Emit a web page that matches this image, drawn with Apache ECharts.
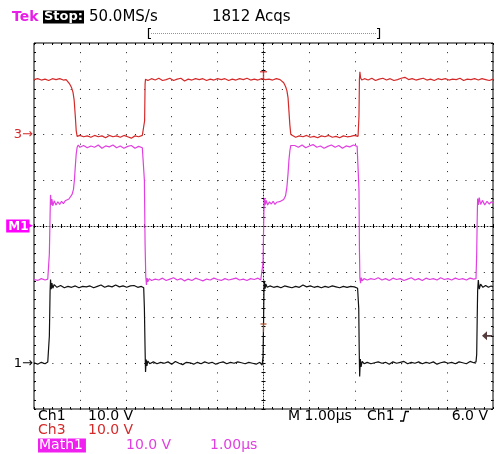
<!DOCTYPE html>
<html><head><meta charset="utf-8">
<script src="https://cdn.jsdelivr.net/npm/echarts@6/dist/echarts.min.js"></script>
<style>html,body{margin:0;padding:0;background:#fff}#c{width:497px;height:454px}</style>
</head><body><div id="c"></div>
<script>
// ---- scope settings ----
const timePerDiv = 1.0;          // µs / div
const ch1VoltsPerDiv = 10.0;     // V / div
const ch3VoltsPerDiv = 10.0;
const mathVoltsPerDiv = 10.0;
const ch1Ground = -3;            // divisions from centre
const ch3Ground = 2;
const mathGround = 0;
const triggerLevel = 6.0;        // V on Ch1
const triggerTime = 0.0;         // µs

// ---- Ch1 (black), [time µs, volts] ----
const ch1 = [
[-5.00,0.1],[-4.92,-0.2],[-4.84,0.2],[-4.76,-0.1],[-4.70,0.3],[-4.68,0.0],
[-4.665,6],[-4.65,15.5],[-4.64,18.3],[-4.625,16.2],[-4.61,17.5],[-4.59,16.4],[-4.56,17.2],
[-4.50,16.6],[-4.42,17.0],[-4.34,16.5],[-4.26,16.8],[-4.18,16.6],[-4.10,16.9],[-4.02,16.5],[-3.94,16.8],
[-3.86,16.7],[-3.78,16.9],[-3.70,16.5],[-3.62,16.8],[-3.54,17.1],[-3.46,16.6],[-3.38,16.9],[-3.30,16.7],
[-3.22,17.1],[-3.14,16.7],[-3.06,16.9],[-2.98,16.6],[-2.90,16.9],[-2.82,17.0],[-2.74,16.6],[-2.66,16.8],[-2.61,16.5],
[-2.595,12],[-2.58,3],[-2.57,-1.9],[-2.555,0.8],[-2.54,-0.6],[-2.52,0.5],[-2.48,-0.1],
[-2.40,0.3],[-2.32,-0.1],[-2.24,0.2],[-2.16,0.0],[-2.08,0.3],[-2.00,-0.2],[-1.92,0.4],[-1.84,0.0],
[-1.76,-0.3],[-1.68,0.2],[-1.60,0.1],[-1.52,-0.2],[-1.44,0.2],[-1.36,-0.1],[-1.28,0.3],[-1.20,0.0],
[-1.12,0.2],[-1.04,-0.2],[-0.96,0.1],[-0.88,0.3],[-0.80,-0.1],[-0.72,0.2],[-0.64,0.0],[-0.56,0.3],
[-0.48,0.1],[-0.40,-0.1],[-0.32,0.2],[-0.24,0.0],[-0.16,-0.2],[-0.08,0.2],[-0.03,-0.4],
[-0.01,1.5],[0.0,8],[0.01,15.6],[0.02,18.0],[0.035,16.3],[0.05,17.3],[0.08,16.6],
[0.14,16.9],[0.22,16.6],[0.30,16.8],[0.38,16.5],[0.46,16.9],[0.54,16.7],[0.62,16.5],[0.70,16.8],
[0.78,16.6],[0.86,17.1],[0.94,16.7],[1.02,16.9],[1.10,16.6],[1.18,16.8],[1.26,16.5],[1.34,16.8],
[1.42,16.6],[1.50,16.9],[1.58,16.7],[1.66,16.5],[1.74,16.8],[1.82,16.6],[1.90,16.8],[1.98,16.7],[2.05,16.4],
[2.075,12],[2.085,3],[2.095,-2.9],[2.11,0.9],[2.125,-0.8],[2.15,0.4],[2.19,-0.1],
[2.26,0.2],[2.34,-0.1],[2.42,0.1],[2.50,0.3],[2.58,0.0],[2.66,0.2],[2.74,-0.2],[2.82,0.3],
[2.90,0.0],[2.98,0.2],[3.06,0.4],[3.14,-0.1],[3.22,0.2],[3.30,0.0],[3.38,0.3],[3.46,-0.1],
[3.54,0.2],[3.62,0.0],[3.70,0.3],[3.78,-0.2],[3.86,0.1],[3.94,0.3],[4.02,0.0],[4.10,0.2],
[4.18,-0.1],[4.26,0.3],[4.34,0.1],[4.42,-0.1],[4.50,0.4],[4.58,0.1],[4.63,0.3],
[4.645,2],[4.655,9],[4.665,15.8],[4.68,18.2],[4.70,16.2],[4.73,17.3],[4.78,16.6],[4.84,17.0],
[4.90,16.6],[4.96,16.9],[5.00,16.7]
];

// ---- Ch3 (red), [time µs, volts] ----
const ch3 = [
[-5.00,12.0],[-4.92,12.2],[-4.84,11.9],[-4.76,12.1],[-4.68,11.8],[-4.60,12.2],[-4.52,12.0],[-4.44,12.2],[-4.36,11.9],[-4.30,12.0],
[-4.26,11.5],[-4.22,11.0],[-4.18,10.2],[-4.15,9.2],[-4.125,7.5],[-4.10,4.0],[-4.08,0.8],[-4.06,-0.4],
[-4.00,-0.2],[-3.92,-0.5],[-3.84,-0.3],[-3.76,-0.6],[-3.68,-0.2],[-3.60,-0.5],[-3.52,-0.3],[-3.44,-0.7],
[-3.36,-0.2],[-3.28,-0.5],[-3.20,-0.3],[-3.12,-0.6],[-3.04,-0.2],[-2.96,-0.5],[-2.88,-0.8],[-2.80,-0.3],
[-2.72,-0.5],[-2.64,-0.2],[-2.60,-0.4],
[-2.59,3],[-2.58,11],[-2.57,12.1],
[-2.52,11.8],[-2.44,12.2],[-2.36,11.9],[-2.28,12.3],[-2.20,11.8],[-2.12,12.0],[-2.04,12.3],[-1.96,11.8],
[-1.88,12.1],[-1.80,12.3],[-1.72,11.7],[-1.64,12.1],[-1.56,11.9],[-1.48,12.2],[-1.40,12.0],[-1.32,12.2],
[-1.24,11.8],[-1.16,12.1],[-1.08,11.9],[-1.00,12.2],[-0.92,12.0],[-0.84,12.2],[-0.76,11.8],[-0.68,12.1],
[-0.60,11.9],[-0.52,12.2],[-0.44,12.0],[-0.36,12.3],[-0.28,11.9],[-0.20,12.1],[-0.12,11.9],[-0.04,12.2],
[0.04,12.0],[0.12,12.1],[0.20,11.9],[0.28,12.2],[0.36,12.0],
[0.40,11.8],[0.44,11.3],[0.48,10.5],[0.51,9.6],[0.535,8.0],[0.555,5.0],[0.575,2.0],[0.595,0.0],[0.62,-0.4],
[0.70,-0.6],[0.78,-0.3],[0.86,-0.5],[0.94,-0.2],[1.02,-0.6],[1.10,-0.4],[1.18,-0.7],[1.26,-0.3],
[1.34,-0.5],[1.42,-0.2],[1.50,-0.6],[1.58,-0.4],[1.66,-0.7],[1.74,-0.3],[1.82,-0.5],[1.90,-0.4],
[1.98,-0.2],[2.06,-0.4],
[2.08,4],[2.09,12],[2.10,13.7],[2.115,12.4],[2.14,11.9],
[2.20,12.2],[2.28,11.9],[2.36,12.3],[2.44,11.8],[2.52,12.1],[2.60,12.3],[2.68,11.9],[2.76,12.2],
[2.84,11.8],[2.92,12.0],[3.00,12.3],[3.08,12.5],[3.16,12.0],[3.24,12.2],[3.32,11.9],[3.40,12.1],
[3.48,12.3],[3.56,11.9],[3.64,12.1],[3.72,11.8],[3.80,12.2],[3.88,12.0],[3.96,12.2],[4.04,11.9],
[4.12,12.1],[4.20,12.0],[4.28,12.3],[4.36,11.8],[4.44,12.1],[4.52,12.0],[4.60,12.2],[4.68,11.9],
[4.76,12.2],[4.84,12.0],[4.92,11.8],[5.00,12.1]
];

// ---- Math1 (magenta), [time µs, volts] ----
const math1 = [
[-5.00,-11.7],[-4.92,-11.9],[-4.84,-11.5],[-4.76,-11.8],[-4.70,-11.6],[-4.68,-11.4],
[-4.665,-6],[-4.65,2],[-4.64,6.8],[-4.625,4.6],[-4.61,5.9],[-4.59,4.4],[-4.56,5.5],[-4.52,4.6],
[-4.48,5.3],[-4.44,4.7],[-4.40,5.4],[-4.36,4.9],[-4.32,5.5],[-4.28,5.6],
[-4.24,5.9],[-4.20,6.3],[-4.17,6.9],[-4.14,8.0],[-4.12,10.0],[-4.10,13.0],[-4.08,15.8],[-4.06,17.2],[-4.035,17.7],
[-4.00,17.2],[-3.92,17.6],[-3.84,17.1],[-3.76,17.5],[-3.68,17.2],[-3.60,17.7],[-3.52,17.0],[-3.44,17.5],
[-3.36,17.3],[-3.28,17.7],[-3.20,17.1],[-3.12,17.5],[-3.04,17.0],[-2.96,17.4],[-2.88,17.6],[-2.80,17.0],
[-2.72,17.4],[-2.64,17.1],[-2.61,17.3],
[-2.595,10],[-2.58,-4],[-2.565,-11.0],[-2.55,-12.9],[-2.535,-11.4],[-2.52,-12.2],[-2.49,-11.5],
[-2.44,-11.9],[-2.36,-11.6],[-2.28,-11.8],[-2.20,-11.4],[-2.12,-11.9],[-2.04,-11.6],[-1.96,-11.3],[-1.88,-11.8],
[-1.80,-11.5],[-1.72,-12.0],[-1.64,-11.6],[-1.56,-11.9],[-1.48,-11.4],[-1.40,-11.7],[-1.32,-12.0],[-1.24,-11.6],
[-1.16,-11.8],[-1.08,-11.4],[-1.00,-11.7],[-0.92,-11.9],[-0.84,-11.5],[-0.76,-11.8],[-0.68,-11.6],[-0.60,-11.4],
[-0.52,-11.8],[-0.44,-11.6],[-0.36,-11.9],[-0.28,-11.5],[-0.20,-11.7],[-0.12,-11.4],[-0.06,-11.8],[-0.02,-11.6],
[-0.01,-8],[0.0,-2],[0.01,3.5],[0.025,6.1],[0.04,4.7],[0.06,5.6],[0.09,4.6],[0.13,5.3],[0.17,4.8],
[0.21,5.4],[0.25,4.7],[0.29,5.2],[0.33,4.9],[0.37,5.4],
[0.40,5.3],[0.44,5.8],[0.48,6.6],[0.51,8.5],[0.535,11.5],[0.555,14.5],[0.575,16.5],[0.595,17.6],[0.62,17.3],
[0.68,17.6],[0.76,17.2],[0.84,17.7],[0.92,17.1],[1.00,17.5],[1.08,17.8],[1.16,17.2],[1.24,17.5],
[1.32,17.0],[1.40,17.4],[1.48,17.7],[1.56,17.2],[1.64,17.6],[1.72,17.0],[1.80,17.5],[1.88,17.3],
[1.96,17.7],[2.04,17.4],[2.065,17.2],
[2.08,8],[2.09,-5],[2.10,-11.4],[2.115,-12.5],[2.13,-11.3],[2.15,-12.0],[2.19,-11.5],
[2.26,-11.8],[2.34,-11.5],[2.42,-11.7],[2.50,-11.3],[2.58,-11.8],[2.66,-11.5],[2.74,-11.9],[2.82,-11.4],
[2.90,-11.7],[2.98,-11.5],[3.06,-11.9],[3.14,-11.6],[3.22,-11.3],[3.30,-11.8],[3.38,-11.5],[3.46,-11.9],
[3.54,-11.4],[3.62,-11.7],[3.70,-11.5],[3.78,-11.8],[3.86,-11.3],[3.94,-11.7],[4.02,-11.5],[4.10,-11.8],
[4.18,-11.4],[4.26,-11.7],[4.34,-11.5],[4.42,-11.8],[4.50,-11.4],[4.58,-11.6],[4.63,-11.5],
[4.645,-6],[4.655,1],[4.665,6.0],[4.68,4.6],[4.70,6.2],[4.73,4.7],[4.77,5.6],[4.82,4.6],
[4.87,5.4],[4.92,4.8],[4.96,5.3],[5.00,5.0]
];

// ---- texts ----
const headerTexts = { brand: 'Tek', state: 'Stop:', rate: '50.0MS/s', acqs: '1812 Acqs' };
const footer = {
  ch1: ['Ch1', '10.0 V'], ch3: ['Ch3', '10.0 V'], math: ['Math1', '10.0 V', '1.00µs'],
  time: 'M 1.00µs', trigSrc: 'Ch1', trigLvl: '6.0 V'
};

// ---- convert to screen divisions ----
const toDiv = (arr, vpd, gnd) => arr.map(([t, v]) => [t / timePerDiv, v / vpd + gnd]);

const FONT = '"DejaVu Sans", sans-serif';
const GRID_DOT = '#1e1e1e';
const RED = '#d42a2a', MAG = '#e040e0', BLK = '#111';

const chart = echarts.init(document.getElementById('c'), null, { renderer: 'canvas' });

function xAx(extra) {
  return Object.assign({
    type: 'value', min: -5, max: 5, interval: 1,
    axisLabel: { show: false }, splitLine: { show: false },
    axisLine: { show: false, onZero: false },
    axisTick: { show: true, inside: true, length: 2, lineStyle: { color: '#000', width: 1 } },
    minorTick: { show: true, splitNumber: 5, length: 2, lineStyle: { color: '#000', width: 1 } }
  }, extra);
}
function yAx(extra) {
  return Object.assign({
    type: 'value', min: -4, max: 4, interval: 1,
    axisLabel: { show: false }, splitLine: { show: false },
    axisLine: { show: false, onZero: false },
    axisTick: { show: true, inside: true, length: 2, lineStyle: { color: '#000', width: 1 } },
    minorTick: { show: true, splitNumber: 5, length: 2, lineStyle: { color: '#000', width: 1 } }
  }, extra);
}

const option = {
  animation: false,
  backgroundColor: '#fff',
  grid: { left: 34, top: 43, width: 459, height: 366, show: true, borderColor: '#000', borderWidth: 1, backgroundColor: 'transparent' },
  xAxis: [
    xAx({ position: 'bottom', splitLine: { show: true, lineStyle: { color: GRID_DOT, width: 1, type: [1, 8.15] } } }),
    xAx({ position: 'top' }),
    xAx({ position: 'bottom', axisLine: { show: true, onZero: true, onZeroAxisIndex: 0, lineStyle: { color: '#222', width: 1, type: [1, 2] } },
          axisTick: { show: true, inside: false, length: 2, lineStyle: { color: '#000' } },
          minorTick: { show: true, splitNumber: 5, length: 2, lineStyle: { color: '#000' } } }),
    xAx({ position: 'bottom', axisLine: { show: false, onZero: true, onZeroAxisIndex: 0 } })
  ],
  yAxis: [
    yAx({ position: 'left', splitLine: { show: true, lineStyle: { color: GRID_DOT, width: 1, type: [1, 8.18] } },
          axisLabel: { show: true, margin: 1, fontFamily: FONT,
            formatter: v => v === ch3Ground ? '{r|3→}' : v === mathGround ? '{m|M1}{mt|▸}' : v === ch1Ground ? '{k|1→}' : '',
            rich: {
              r: { color: RED, fontSize: 13, fontFamily: FONT },
              k: { color: '#000', fontSize: 13, fontFamily: FONT },
              m: { color: '#fff', backgroundColor: '#f0f', fontSize: 12, fontFamily: FONT, padding: [1, 1, 0, 2], fontWeight: 'bold' },
              mt: { color: '#f0f', fontSize: 13, fontFamily: FONT, padding: [0, 0, 0, -3] }
            } } }),
    yAx({ position: 'right' }),
    yAx({ position: 'left', axisLine: { show: true, onZero: true, onZeroAxisIndex: 0, lineStyle: { color: '#222', width: 1, type: [1, 2] } },
          axisTick: { show: true, inside: false, length: 2, lineStyle: { color: '#000' } },
          minorTick: { show: true, splitNumber: 5, length: 2, lineStyle: { color: '#000' } } }),
    yAx({ position: 'left', axisLine: { show: false, onZero: true, onZeroAxisIndex: 0 } })
  ],
  series: [
    { name: 'Math1', type: 'line', data: toDiv(math1, mathVoltsPerDiv, mathGround), showSymbol: false, symbol: 'none',
      lineStyle: { color: MAG, width: 1.2 }, z: 3 },
    { name: 'Ch3', type: 'line', data: toDiv(ch3, ch3VoltsPerDiv, ch3Ground), showSymbol: false, symbol: 'none',
      lineStyle: { color: RED, width: 1.2 }, z: 4 },
    { name: 'Ch1', type: 'line', data: toDiv(ch1, ch1VoltsPerDiv, ch1Ground), showSymbol: false, symbol: 'none',
      lineStyle: { color: BLK, width: 1.2 }, z: 5 },
    { name: 'trigLevel', type: 'scatter', z: 6, silent: true,
      data: [[5, triggerLevel / ch1VoltsPerDiv + ch1Ground]],
      symbol: 'path://M0,5 L6,0 L6,4 L12,4 L12,6 L6,6 L6,10 Z', symbolSize: [10, 9], symbolOffset: [-6, 0],
      itemStyle: { color: '#2a0a0a' } },
    { name: 'trigPoint', type: 'scatter', z: 6, silent: true,
      data: [[triggerTime, triggerLevel / ch1VoltsPerDiv + ch1Ground]],
      symbol: 'path://M0,0 H8 V1.6 H4.8 V10 H3.2 V1.6 H0 Z', symbolSize: [6, 9], symbolOffset: [0, -8],
      itemStyle: { color: '#b4502a' } },
    { name: 'trigPos', type: 'scatter', z: 6, silent: true,
      data: [[triggerTime, 12.0 / ch3VoltsPerDiv + ch3Ground]],
      symbol: 'path://M0,0 H8 V1.6 H4.8 V10 H3.2 V1.6 H0 Z', symbolSize: [7, 9], symbolOffset: [0, -4],
      itemStyle: { color: RED } }
  ],
  graphic: [
    { type: 'text', x: 12, y: 17, style: { text: headerTexts.brand, font: 'bold 14px ' + FONT, fill: '#e81ee8', verticalAlign: 'middle' } },
    { type: 'text', x: 43, y: 17, style: { text: headerTexts.state, font: 'bold 13px ' + FONT, fill: '#fff', backgroundColor: '#000', padding: [0, 1, 0, 1], verticalAlign: 'middle' } },
    { type: 'text', x: 89, y: 17, style: { text: headerTexts.rate, font: '15px ' + FONT, fill: '#000', verticalAlign: 'middle' } },
    { type: 'text', x: 212, y: 17, style: { text: headerTexts.acqs, font: '15px ' + FONT, fill: '#000', verticalAlign: 'middle' } },
    { type: 'polyline', shape: { points: [[151, 28.5], [148.5, 28.5], [148.5, 38.5], [151, 38.5]] }, style: { stroke: '#000', lineWidth: 1.2, fill: null } },
    { type: 'polyline', shape: { points: [[377, 28.5], [379.5, 28.5], [379.5, 38.5], [377, 38.5]] }, style: { stroke: '#000', lineWidth: 1.2, fill: null } },
    { type: 'line', shape: { x1: 151, y1: 33.5, x2: 377, y2: 33.5 }, style: { stroke: '#e060e0', lineWidth: 1, lineDash: [1, 1] } },

    { type: 'text', x: 38, y: 416, style: { text: footer.ch1[0], font: '14px ' + FONT, fill: '#000', verticalAlign: 'middle' } },
    { type: 'text', x: 88, y: 416, style: { text: footer.ch1[1], font: '14px ' + FONT, fill: '#000', verticalAlign: 'middle' } },
    { type: 'text', x: 288, y: 416, style: { text: footer.time, font: '14px ' + FONT, fill: '#000', verticalAlign: 'middle' } },
    { type: 'text', x: 367, y: 416, style: { text: footer.trigSrc, font: '14px ' + FONT, fill: '#000', verticalAlign: 'middle' } },
    { type: 'polyline', shape: { points: [[400, 421], [403.5, 421], [405.5, 411.5], [409, 411.5]] }, style: { stroke: '#000', lineWidth: 1.3, fill: null } },
    { type: 'text', x: 488, y: 416, style: { text: footer.trigLvl, font: '14px ' + FONT, fill: '#000', align: 'right', verticalAlign: 'middle' } },
    { type: 'text', x: 38, y: 430.5, style: { text: footer.ch3[0], font: '14px ' + FONT, fill: RED, verticalAlign: 'middle' } },
    { type: 'text', x: 88, y: 430.5, style: { text: footer.ch3[1], font: '14px ' + FONT, fill: RED, verticalAlign: 'middle' } },
    { type: 'text', x: 38, y: 445.5, style: { text: footer.math[0], font: '14px ' + FONT, fill: '#fff', backgroundColor: '#f020f0', padding: [0, 3, 0, 1], verticalAlign: 'middle' } },
    { type: 'text', x: 126, y: 445.5, style: { text: footer.math[1], font: '14px ' + FONT, fill: MAG, verticalAlign: 'middle' } },
    { type: 'text', x: 210, y: 445.5, style: { text: footer.math[2], font: '14px ' + FONT, fill: MAG, verticalAlign: 'middle' } }
  ]
};
chart.setOption(option);
</script>
</body></html>
